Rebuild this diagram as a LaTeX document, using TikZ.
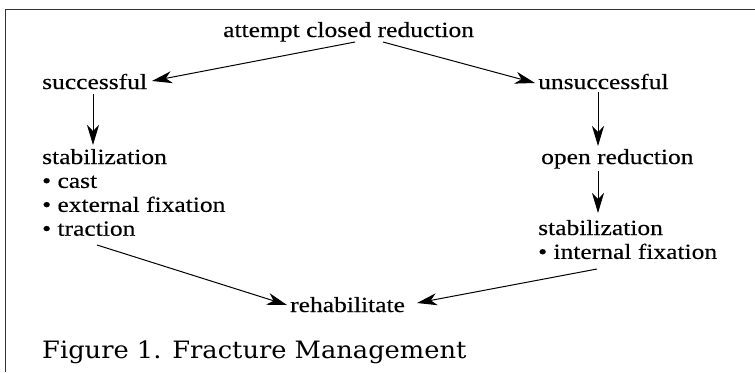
\documentclass[tikz,border=0pt]{standalone}
\usepackage{fontspec}
\setmainfont{Liberation Serif}[FakeStretch=1.18,FakeBold=0.3]
\newfontfamily\titlefont{DejaVu Serif}[FakeStretch=1.075]
\usetikzlibrary{arrows.meta}
\begin{document}
\begin{tikzpicture}[x=1bp,y=-1bp,
  lbl/.style={inner sep=0pt,anchor=base west,font=\fontsize{21.7}{24}\selectfont},
  arr/.style={-{Stealth[length=20bp,width=12bp,inset=6bp]},line width=1bp},
  frame/.style={line width=1.8bp,draw=black!80}]
\useasboundingbox (0,0) rectangle (755,372);
\draw[frame] (755,9.5) -- (5.5,9.5) -- (5.5,372);
\node[lbl] (att) at (223,37) {attempt closed reduction};
\node[lbl] (suc) at (42,89) {successful};
\node[lbl] (uns) at (538,89) {unsuccessful};
\node[lbl] (stl) at (42,164) {\begin{tabular}[t]{@{}l@{}}stabilization\\• cast\\• external fixation\\• traction\end{tabular}};
\node[lbl] (opn) at (541,164) {open reduction};
\node[lbl] (str) at (538,235) {\begin{tabular}[t]{@{}l@{}}stabilization\\• internal fixation\end{tabular}};
\node[lbl] (reh) at (290,312) {rehabilitate};
\node[inner sep=0pt,anchor=base west,font=\titlefont\fontsize{24}{28}\selectfont] (fig) at (42,358) {Figure 1. Fracture Management};
\draw[arr] ([shift={(132,5)}]att.base west) -- ([shift={(110,-8)}]suc.base west);
\draw[arr] ([shift={(160,5)}]att.base west) -- ([shift={(-3,-6)}]uns.base west);
\draw[arr] ([shift={(51,5)}]suc.base west) -- ([shift={(51,-19)}]stl.base west);
\draw[arr] ([shift={(60,3)}]uns.base west) -- ([shift={(57,-18)}]opn.base west);
\draw[arr] ([shift={(57,7)}]opn.base west) -- ([shift={(60,-22)}]str.base west);
\draw[arr] ([shift={(55,81)}]stl.base west) -- ([shift={(-3,-7)}]reh.base west);
\draw[arr] ([shift={(59,34)}]str.base west) -- ([shift={(127,-9)}]reh.base west);
\end{tikzpicture}
\end{document}
